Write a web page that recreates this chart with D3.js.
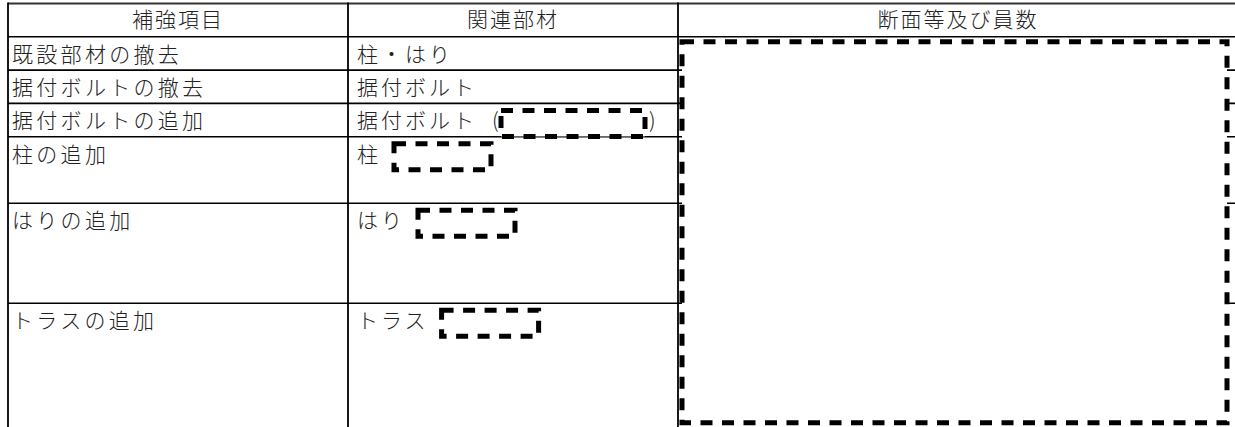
<!DOCTYPE html>
<html>
<head>
<meta charset="utf-8">
<script src="https://cdn.jsdelivr.net/npm/d3@7"></script>
<style>
  html, body { margin: 0; padding: 0; background: #fff; overflow: hidden; }
  svg { display: block; }
  text { font-family: "Noto Sans CJK JP", "Noto Sans", sans-serif; font-weight: 300; fill: #222; }
</style>
</head>
<body>
<svg id="chart" width="1235" height="427"></svg>
<script>
// ---- table content ----
const headers = ["補強項目", "関連部材", "断面等及び員数"];
const items = ["既設部材の撤去", "据付ボルトの撤去", "据付ボルトの追加", "柱の追加", "はりの追加", "トラスの追加"];
const related = ["柱・はり", "据付ボルト", "据付ボルト", "柱", "はり", "トラス"];
// which related-member cells contain an input box (1 = yes), and box kind
const inputBox = [0, 0, 2, 1, 1, 1];   // 2 = wide box inside parentheses
const rowSpans = [1, 1, 1, 1, 2, 3, 4]; // header + 6 rows (in row units)
const colWeights = [340, 330, 560];

const W = 1235, H = 427;
const svg = d3.select("#chart");

// scales
const cumRows = [0];
rowSpans.forEach(s => cumRows.push(cumRows[cumRows.length - 1] + s));
const y = d3.scaleLinear().domain([0, 1]).range([3.5, 36.8]);
const cumCols = [0];
colWeights.forEach(w => cumCols.push(cumCols[cumCols.length - 1] + w));
const x = d3.scaleLinear().domain([0, d3.sum(colWeights)]).range([8, 8 + d3.sum(colWeights)]);

const g = svg.append("g");

// horizontal row lines (full width)
g.selectAll("line.row").data(cumRows.slice(1, -1)).join("line")
  .attr("class", "row")
  .attr("x1", x(0)).attr("x2", W + 5)
  .attr("y1", d => y(d)).attr("y2", d => y(d))
  .attr("stroke", "#000").attr("stroke-width", 1.6);

// top border
g.append("line").attr("x1", x(0)).attr("x2", W + 5)
  .attr("y1", y(0)).attr("y2", y(0))
  .attr("stroke", "#333").attr("stroke-width", 2.2);

// vertical column lines
g.selectAll("line.col").data(cumCols.slice(0, 3)).join("line")
  .attr("class", "col")
  .attr("x1", d => x(d)).attr("x2", d => x(d))
  .attr("y1", y(0) - 1).attr("y2", H + 5)
  .attr("stroke", "#000").attr("stroke-width", 1.8);

// headers
g.selectAll("text.hdr").data(headers).join("text")
  .attr("class", "hdr")
  .attr("x", (d, i) => (x(cumCols[i]) + x(cumCols[i + 1])) / 2)
  .attr("y", (y(0) + y(1)) / 2 + 7)
  .attr("text-anchor", "middle")
  .style("font-size", "21px")
  .style("letter-spacing", "2px")
  .text(d => d);

// item texts (column 1)
g.selectAll("text.item").data(items).join("text")
  .attr("class", "item")
  .attr("x", x(cumCols[0]) + 4)
  .attr("y", (d, i) => y(cumRows[i + 1]) + 25)
  .style("font-size", "21px")
  .style("letter-spacing", "3.3px")
  .text(d => d);

// related texts (column 2)
const relText = g.selectAll("text.rel").data(related).join("text")
  .attr("class", "rel")
  .attr("x", x(cumCols[1]) + 9)
  .attr("y", (d, i) => y(cumRows[i + 1]) + 25)
  .style("font-size", "21px")
  .style("letter-spacing", "3px")
  .text(d => d);

// input boxes in column 2
const dash = "12,9.5";
relText.each(function (d, i) {
  if (!inputBox[i]) return;
  const end = x(cumCols[1]) + 9 + this.getComputedTextLength();
  const top = y(cumRows[i + 1]);
  if (inputBox[i] === 2) {
    g.append("text").attr("x", end + 15).attr("y", top + 25)
      .style("font-size", "21px").text("(");
    g.append("rect").attr("x", end + 24).attr("y", top + 7)
      .attr("width", 144).attr("height", 26)
      .attr("fill", "#fff").attr("stroke", "#000").attr("stroke-width", 5)
      .attr("stroke-dasharray", dash);
    g.append("text").attr("x", end + 172).attr("y", top + 25)
      .style("font-size", "21px").text(")");
  } else {
    g.append("rect").attr("x", end + 13).attr("y", top + 7)
      .attr("width", 97).attr("height", 26)
      .attr("fill", "#fff").attr("stroke", "#000").attr("stroke-width", 5)
      .attr("stroke-dasharray", dash);
  }
});

// large input area in column 3
g.append("rect")
  .attr("x", x(cumCols[2]) + 4).attr("y", y(cumRows[1]) + 5)
  .attr("width", W - 8 - (x(cumCols[2]) + 4)).attr("height", 381)
  .attr("fill", "#fff").attr("stroke", "#000").attr("stroke-width", 5)
  .attr("stroke-dasharray", dash);
</script>
</body>
</html>
